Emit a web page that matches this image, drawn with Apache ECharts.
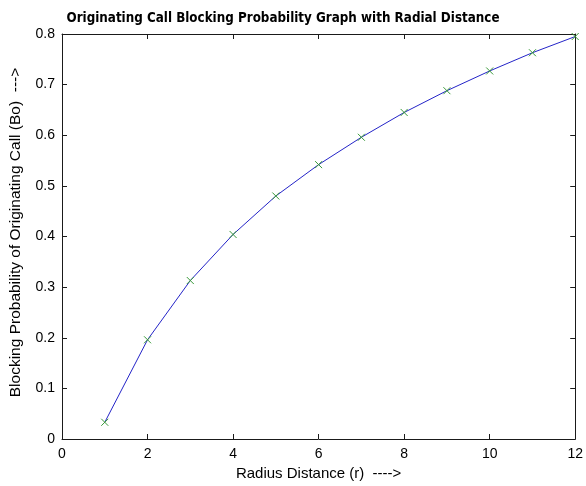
<!DOCTYPE html>
<html>
<head>
<meta charset="utf-8">
<script src="https://cdn.jsdelivr.net/npm/echarts@6/dist/echarts.min.js"></script>
<style>
  html, body { margin: 0; padding: 0; background: #ffffff; }
  #chart { width: 586px; height: 486px; }
</style>
</head>
<body>
<div id="chart"></div>
<script>
// Radius distance (r) and the originating call blocking probability (Bo)
const radius = [1, 2, 3, 4, 5, 6, 7, 8, 9, 10, 11, 12];
const blocking = [0.033, 0.196, 0.313, 0.404, 0.480, 0.542, 0.596, 0.645, 0.688, 0.727, 0.763, 0.795];

const xTicks = { min: 0, max: 12, interval: 2 };
const yTicks = { min: 0, max: 0.8, interval: 0.1 };

const FONT = '"Liberation Sans", Arial, Helvetica, sans-serif';
const AXIS_COLOR = '#1a1a1a';

function axisBase(range, pos, showLabels, margin) {
  return {
    type: 'value',
    position: pos,
    min: range.min,
    max: range.max,
    interval: range.interval,
    splitLine: { show: false },
    axisLine: { show: true, onZero: false, lineStyle: { color: AXIS_COLOR, width: 1 } },
    axisTick: { show: true, inside: true, length: 5, lineStyle: { color: AXIS_COLOR, width: 1 } },
    axisLabel: {
      show: showLabels,
      color: '#000',
      fontFamily: FONT,
      fontSize: 14,
      margin: margin || 8,
      formatter: v => (Math.abs(v) < 1e-9 ? '0' : String(+v.toFixed(1)))
    }
  };
}

const chart = echarts.init(document.getElementById('chart'), null, { renderer: 'canvas' });

chart.setOption({
  backgroundColor: '#ffffff',
  animation: false,
  title: {
    text: 'Originating Call Blocking Probability Graph with Radial Distance',
    left: 283,
    textAlign: 'center',
    top: 7,
    textStyle: {
      fontFamily: '"DejaVu Sans Condensed", "Liberation Sans Narrow", Arial, sans-serif',
      fontWeight: 'bold',
      fontSize: 13.3,
      color: '#000'
    }
  },
  grid: { left: 62, right: 9, top: 34, bottom: 45, containLabel: false },
  xAxis: [
    Object.assign(axisBase(xTicks, 'bottom', true, 8), {
      name: 'Radius Distance (r)  ---->',
      nameLocation: 'middle',
      nameGap: 27,
      nameTextStyle: { fontFamily: FONT, fontSize: 15, color: '#000' }
    }),
    axisBase(xTicks, 'top', false)
  ],
  yAxis: [
    Object.assign(axisBase(yTicks, 'left', true, 7), {
      name: 'Blocking Probability of Originating Call (Bo)  --->',
      nameLocation: 'middle',
      nameGap: 38,
      nameTextStyle: { fontFamily: FONT, fontSize: 15.5, color: '#000', padding: [0, 0, 0, 8] }
    }),
    axisBase(yTicks, 'right', false)
  ],
  series: [
    {
      type: 'line',
      xAxisIndex: 0,
      yAxisIndex: 0,
      data: radius.map((r, i) => [r, blocking[i]]),
      lineStyle: { color: '#2424c8', width: 1 },
      symbol: 'path://M0,0L10,10M10,0L0,10',
      symbolSize: 7,
      showSymbol: true,
      itemStyle: { color: 'rgba(0,0,0,0)', borderColor: '#3a9a3a', borderWidth: 1 },
      z: 3
    }
  ]
});

// Centre the title slightly left of the plot centre, as laid out above the axes
chart.setOption({ title: { left: 278 } });
</script>
</body>
</html>
